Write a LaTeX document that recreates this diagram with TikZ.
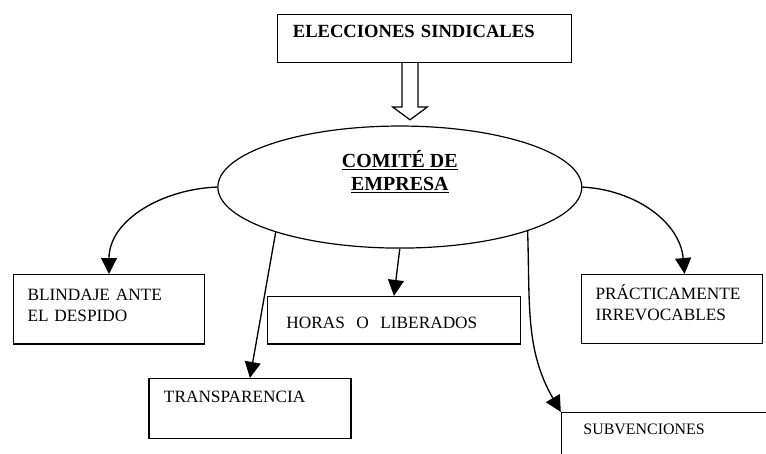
\documentclass[tikz,border=0pt]{standalone}
\usepackage{fontspec}
\setmainfont{Liberation Serif}
\usepackage{tikz}
\usetikzlibrary{shapes.geometric,arrows.meta,calc}

\begin{document}
\begin{tikzpicture}[
    itembox/.style={draw, line width=1.1pt, anchor=north west, align=left, inner ysep=0pt, font=\fontsize{13}{15.75}\selectfont},
    link/.style={line width=1pt, -{Triangle[length=12pt,width=12pt]}}]
    \useasboundingbox (0,0) rectangle (20.27,-11.99);

    % Top box
    \node[itembox, font=\bfseries\fontsize{14}{17}\selectfont, inner xsep=0.40cm, text width=6.98cm, text height=0.61cm, text depth=0.66cm] (elecciones) at (7.33,-0.37) {ELECCIONES SINDICALES};

    % Block arrow
    \coordinate (arrowtop) at (10.85,-1.64);
    \draw[line width=0.9pt] (arrowtop) ++(-0.21,0) -- ++(0,-1.19) -- ++(-0.25,0) -- ++(0.46,-0.34) -- ++(0.46,0.34) -- ++(-0.25,0) -- ++(0,1.19);

    % Ellipse
    \node[draw, ellipse, line width=0.9pt, minimum width=9.63cm, minimum height=3.23cm, align=center, text height=0.30cm, text depth=0.14cm, font=\bfseries\fontsize{15}{17.25}\selectfont] (comite) at (10.58,-4.95) {\underline{COMITÉ DE}\\\underline{EMPRESA}};

    % Boxes
    \node[itembox, inner xsep=0.37cm, text width=4.31cm, text height=0.69cm, text depth=1.14cm] (blindaje) at (0.34,-7.25) {BLINDAJE ANTE\\EL DESPIDO};
    \node[itembox, inner xsep=0.50cm, text width=5.69cm, text height=0.85cm, text depth=0.40cm] (horas) at (7.06,-7.83) {HORAS~~O~~LIBERADOS};
    \node[itembox, inner xsep=0.37cm, text width=4.05cm, text height=0.66cm, text depth=1.16cm] (practicamente) at (15.37,-7.25) {PRÁCTICAMENTE\\IRREVOCABLES};
    \node[itembox, inner xsep=0.40cm, text width=4.55cm, text height=0.64cm, text depth=0.95cm] (transparencia) at (3.92,-10.00) {TRANSPARENCIA};
    \node[itembox, font=\fontsize{12}{14}\selectfont, inner xsep=0.58cm, text width=4.63cm, text height=0.58cm, text depth=0.95cm] (subvenciones) at (14.84,-10.90) {SUBVENCIONES};

    % Arrows
    \draw[link] (comite.west) to[out=182, in=90] (blindaje.north);
    \draw[link] (comite.200) -- (transparencia.north);
    \draw[link] (comite.south) -- (horas.north);
    \draw[link] (comite.341) to[out=-88, in=120] (subvenciones.north west);
    \draw[link] (comite.east) to[out=-3, in=95] ($(practicamente.north)+(0.33,0)$);
\end{tikzpicture}
\end{document}
